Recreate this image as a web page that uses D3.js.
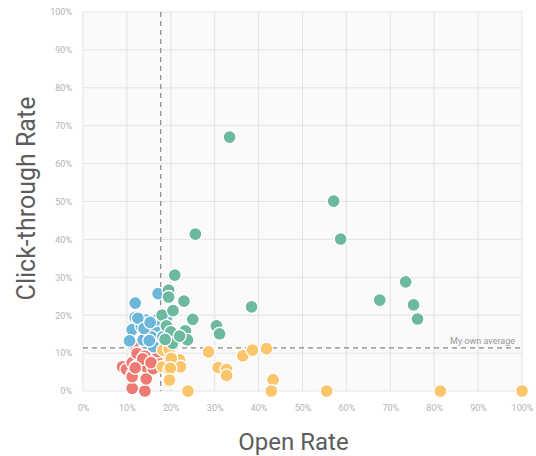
<!DOCTYPE html>
<html lang="en">
    <head>
        <meta charset="utf-8">
        <title>Open Rate vs Click-through Rate</title>
        <script src="https://d3js.org/d3.v7.min.js"></script>
        <style type="text/css">
            body {
              margin: 0;
              background: #fff;
            }
            .axis text {
              font-family: "Roboto", "Helvetica", "Arial", sans-serif;
              font-size: 9px;
              fill: #b3b3b3;
            }
            .axis path, .axis line {
              stroke: none;
            }
            .title {
              font-family: "Roboto", "Helvetica", "Arial", sans-serif;
              font-weight: 400;
              fill: #5c5c5c;
            }
        </style>
    </head>
    <body>
        <div id="chart"></div>
        <script type="text/javascript">

        //CONSTANTS
            const w = 536;
            const h = 456;
            const margin = {top: 12, right: 14, bottom: 65, left: 83};

        //DATA (open rate %, click-through rate %)
            const ticks = [0, 10, 20, 30, 40, 50, 60, 70, 80, 90, 100];
            const avgOpen = 17.7;
            const avgClick = 11.4;
            const avgLabel = "My own average";

            const red = [
                [9, 6.4], [9.9, 5.7], [11.2, 7.5], [12, 6.4], [11.3, 4.5], [11.2, 0.7],
                [14.1, 0], [14.4, 3.2], [14.2, 6.5], [14.9, 9.2], [12.2, 11.2], [13.5, 10.2],
                [16.3, 8.2], [16.7, 6], [17.3, 7.5], [17, 10.4], [15.6, 11.7], [11.2, 3.8],
                [12.3, 9.9], [14.1, 9.2], [13.6, 8.5], [16, 5.9], [15.5, 7.5], [11.9, 6.1]
            ];
            const blue = [
                [11.9, 23.2], [17.1, 25.7], [11.9, 19.4], [11.2, 16.2], [10.6, 13.2],
                [14.4, 18.7], [14.4, 15.8], [14.4, 12.6], [16.3, 16.1], [16.1, 11.7],
                [13.3, 17], [13.7, 13.5], [16.7, 18.7], [12.5, 19.2], [15.6, 14.3],
                [19, 19.2], [18.2, 14.3], [13.9, 16.5], [15.3, 18.1], [15.1, 13.3]
            ];
            const yellow = [
                [18.1, 6.4], [19.6, 9], [19.6, 5.5], [19.6, 2.5], [18.2, 10.8], [20.5, 8.6],
                [22, 8.2], [22.2, 6.4], [23.9, 0], [28.6, 10.3], [30.8, 6.2], [32.7, 5.7],
                [32.7, 4.1], [36.4, 9.3], [38.6, 10.8], [41.8, 11.2], [43.3, 3], [42.9, 0],
                [55.5, 0], [81.4, 0], [100, 0], [19.6, 11], [20.1, 8.6], [19.9, 6], [19.7, 2.9]
            ];
            const green = [
                [33.4, 67], [57.1, 50.1], [58.7, 40.1], [25.6, 41.4], [73.5, 28.8], [67.6, 24],
                [75.3, 22.7], [76.2, 19], [38.4, 22.2], [20.9, 30.6], [19.5, 26.6], [19.5, 24.8],
                [23, 23.7], [25, 18.9], [18, 20], [20.5, 21.2], [19, 17.2], [20, 15.6],
                [23.3, 15.9], [23.8, 13.5], [20.4, 12.6], [18.7, 13.6], [30.4, 17.2], [31.1, 15.1],
                [22, 14.5]
            ];

            const groups = [
                {name: "red", color: "#ee7b73", data: red},
                {name: "blue", color: "#6cb6da", data: blue},
                {name: "yellow", color: "#fac56b", data: yellow},
                {name: "green", color: "#6cb8a1", data: green}
            ];

        //SCALES
            const xScale = d3.scaleLinear()
                            .domain([0, 100])
                            .range([margin.left, w - margin.right]);
            const yScale = d3.scaleLinear()
                            .domain([0, 100])
                            .range([h - margin.bottom, margin.top]);

            const svg = d3.select("#chart")
                    .append("svg")
                    .attr("width", w)
                    .attr("height", h);

        //PLOT BACKGROUND + GRID
            svg.append("rect")
                .attr("x", xScale(0))
                .attr("y", yScale(100))
                .attr("width", xScale(100) - xScale(0))
                .attr("height", yScale(0) - yScale(100))
                .attr("fill", "#fafafa");

            svg.selectAll(".vgrid")
                .data(ticks)
                .enter()
                .append("line")
                .attr("x1", d => xScale(d))
                .attr("x2", d => xScale(d))
                .attr("y1", yScale(0))
                .attr("y2", yScale(100))
                .attr("stroke", "#e3e3e3")
                .attr("stroke-width", 1);

            svg.selectAll(".hgrid")
                .data(ticks)
                .enter()
                .append("line")
                .attr("x1", xScale(0))
                .attr("x2", xScale(100))
                .attr("y1", d => yScale(d))
                .attr("y2", d => yScale(d))
                .attr("stroke", "#e3e3e3")
                .attr("stroke-width", 1);

        //AXES
            const bottomAxis = d3.axisBottom(xScale)
                                .tickValues(ticks)
                                .tickSize(0)
                                .tickPadding(14)
                                .tickFormat(d => d + "%");
            const leftAxis = d3.axisLeft(yScale)
                              .tickValues(ticks)
                              .tickSize(0)
                              .tickPadding(11)
                              .tickFormat(d => d + "%");

            svg.append("g")
                .attr("class", "axis")
                .attr("transform", "translate(0," + yScale(0) + ")")
                .call(bottomAxis);
            svg.append("g")
                .attr("class", "axis")
                .attr("transform", "translate(" + xScale(0) + ",0)")
                .call(leftAxis);

        //AVERAGE LINES
            svg.append("line")
                .attr("x1", xScale(avgOpen))
                .attr("x2", xScale(avgOpen))
                .attr("y1", yScale(100))
                .attr("y2", yScale(0))
                .attr("stroke", "#888")
                .attr("stroke-width", 1.2)
                .attr("stroke-dasharray", "5,4");
            svg.append("line")
                .attr("x1", xScale(0))
                .attr("x2", xScale(100))
                .attr("y1", yScale(avgClick))
                .attr("y2", yScale(avgClick))
                .attr("stroke", "#888")
                .attr("stroke-width", 1.2)
                .attr("stroke-dasharray", "5,4");
            svg.append("text")
                .attr("x", xScale(100) - 7)
                .attr("y", yScale(avgClick) - 4)
                .attr("text-anchor", "end")
                .attr("font-family", "Roboto, sans-serif")
                .attr("font-size", "9px")
                .attr("fill", "#999")
                .text(avgLabel);

        //POINTS
            groups.forEach(g => {
                svg.append("g")
                    .selectAll("circle")
                    .data(g.data)
                    .enter()
                    .append("circle")
                    .attr("cx", d => xScale(d[0]))
                    .attr("cy", d => yScale(d[1]))
                    .attr("r", 6.5)
                    .attr("fill", g.color)
                    .attr("stroke", "#fff")
                    .attr("stroke-width", 1.3);
            });

        //TITLES
            // small duplicate title, half hidden in the original
            svg.append("clipPath")
                .attr("id", "half")
                .append("rect")
                .attr("x", 46)
                .attr("y", 0)
                .attr("width", 20)
                .attr("height", h);
            svg.append("text")
                .attr("clip-path", "url(#half)")
                .attr("transform", "translate(50," + yScale(50) + ") rotate(-90)")
                .attr("text-anchor", "middle")
                .attr("font-family", "Roboto, sans-serif")
                .attr("font-size", "9px")
                .attr("fill", "#aaa")
                .text("Click-through Rate");

            svg.append("text")
                .attr("class", "title")
                .attr("transform", "translate(35," + (yScale(50) - 3) + ") rotate(-90)")
                .attr("text-anchor", "middle")
                .attr("font-size", "25px")
                .text("Click-through Rate");

            svg.append("text")
                .attr("class", "title")
                .attr("x", (xScale(0) + xScale(100)) / 2 - 9)
                .attr("y", 450)
                .attr("text-anchor", "middle")
                .attr("font-size", "24px")
                .text("Open Rate");
        </script>
    </body>
</html>
